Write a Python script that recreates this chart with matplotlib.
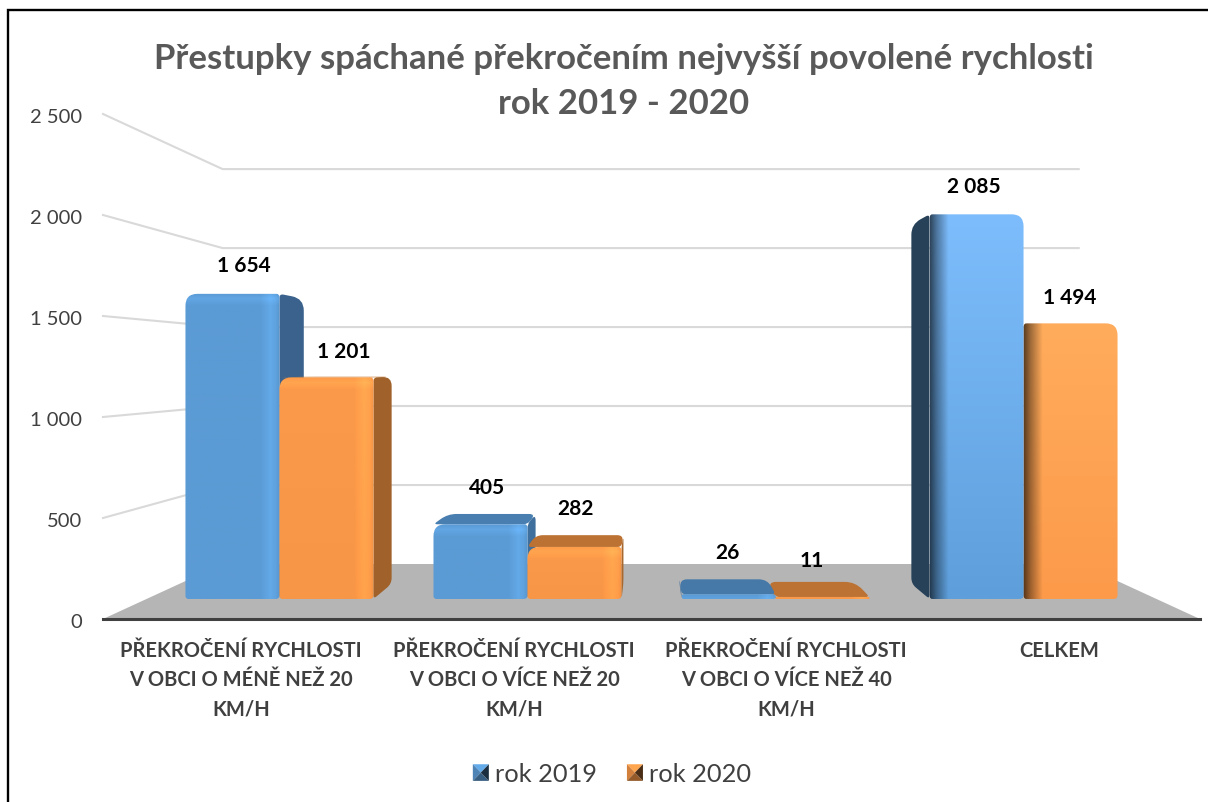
import numpy as np
import matplotlib
matplotlib.use('Agg')
from matplotlib import pyplot as plt
from matplotlib.colors import to_rgb
from matplotlib.legend_handler import HandlerBase
from matplotlib.patches import PathPatch, Patch, Polygon
from matplotlib.path import Path

plt.rcParams['font.family'] = ['Lato', 'DejaVu Sans']

# data
categories = ['PŘEKROČENÍ RYCHLOSTI\nV OBCI O MÉNĚ NEŽ 20\nKM/H',
              'PŘEKROČENÍ RYCHLOSTI\nV OBCI O VÍCE NEŽ 20\nKM/H',
              'PŘEKROČENÍ RYCHLOSTI\nV OBCI O VÍCE NEŽ 40\nKM/H',
              'CELKEM']
rok_2019 = [1654, 405, 26, 2085]
rok_2020 = [1201, 282, 11, 1494]
ticks = [0, 500, 1000, 1500, 2000, 2500]
title = 'Přestupky spáchané překročením nejvyšší povolené rychlosti\nrok 2019 - 2020'

# perspective of the fake 3d box, in pixels
VP_X = 651.5      # x of the vanishing line
BASE_Y = 620      # floor front edge
FLOOR_H = 55      # screen height of the floor
SHRINK = 0.218    # how much smaller the back wall is
UNIT = 269.4      # one category at depth 0
PX_PER_VAL = 101 / 500
BAR_SCALE = 0.992
X_MIN, X_MAX = -0.536, 3.536
T_FRONT, T_BACK = 0.364, 0.64
BAR_W = 0.379


def proj(x, v, t):
    s = 1 - SHRINK * t
    return (VP_X + (x - 1.5) * UNIT * s, BASE_Y - FLOOR_H * t - v * PX_PER_VAL * s)


def round_path(pts, radii):
    pts = [np.array(p, dtype=float) for p in pts]
    n = len(pts)
    verts, codes = [], []
    for i in range(n):
        cur, prv, nxt = pts[i], pts[i - 1], pts[(i + 1) % n]
        d1, d2 = np.linalg.norm(prv - cur), np.linalg.norm(nxt - cur)
        r = min(radii[i], d1 / 2, d2 / 2)
        a = cur + (prv - cur) / max(d1, 1e-6) * r
        b = cur + (nxt - cur) / max(d2, 1e-6) * r
        verts += [a, cur, b]
        codes += [Path.MOVETO if i == 0 else Path.LINETO, Path.CURVE3, Path.CURVE3]
    verts.append(verts[0])
    codes.append(Path.CLOSEPOLY)
    return Path(verts, codes)


def face(pts, radii, color, z):
    ax.add_patch(PathPatch(round_path(pts, radii), fc=color, ec='none', zorder=z))


def shaded_face(pts, radii, top_col, bot_col, xs, mult, top_glow, z):
    # rounded rectangle filled with an image: vertical colour ramp times a light profile
    patch = PathPatch(round_path(pts, radii), fc='none', ec='none', zorder=z)
    ax.add_patch(patch)
    x0, x1 = min(p[0] for p in pts), max(p[0] for p in pts)
    y0, y1 = min(p[1] for p in pts), max(p[1] for p in pts)
    w, h = max(int(x1 - x0), 2), max(int(y1 - y0), 2)
    ramp = np.linspace(0, 1, h)[:, None, None]
    rgb = (1 - ramp) * np.array(to_rgb(top_col)) + ramp * np.array(to_rgb(bot_col))
    prof = np.interp(np.arange(w), [w + v if v < 0 else v for v in xs], mult)[None, :, None]
    glow = np.interp(np.arange(h), [0, 5, 12], [1.0, top_glow, 1.0])[:, None, None]
    img = np.clip(rgb * prof * glow, 0, 1)
    im = ax.imshow(img, extent=(x0, x1, y1, y0), aspect='auto', interpolation='bilinear', zorder=z)
    im.set_clip_path(patch)


class BevelHandler(HandlerBase):
    def __init__(self, base):
        super().__init__()
        self.base = np.array(to_rgb(base))

    def create_artists(self, legend, orig, xd, yd, width, height, fontsize, trans):
        x0, y0 = -xd, -yd
        c = (x0 + width / 2, y0 + height / 2)
        a, b, e, d = (x0, y0), (x0 + width, y0), (x0 + width, y0 + height), (x0, y0 + height)
        tris = [((d, e), 1.1), ((a, d), 0.85), ((a, b), 0.6), ((b, e), 0.3)]
        return [Polygon([p, q, c], fc=np.clip(self.base * m, 0, 1), ec='none', transform=trans)
                for (p, q), m in tris]


fig = plt.figure(figsize=(12.08, 8.03), dpi=100)
ax = fig.add_axes([0, 0, 1, 1])
ax.axis('off')

# border, only left and top fit in the picture
ax.plot([8, 8, 1208], [803, 11, 11], color='black', lw=1.7, zorder=0, solid_joinstyle='miter')

# walls
for v in ticks[1:]:
    xf, yf = proj(X_MIN, v, 0)
    xb, yb = proj(X_MIN, v, 1)
    xr, _ = proj(X_MAX - 0.008, v, 1)
    ax.plot([xf, xb, xr], [yf, yb, yb], color='#D9D9D9', lw=1.5, zorder=1)

# floor
floor = [proj(X_MIN, 0, 0), proj(X_MIN, 0, 1), proj(X_MAX, 0, 1), proj(X_MAX, 0, 0)]
ax.add_patch(Polygon(floor, fc='#B5B5B5', ec='none', zorder=2))
ax.plot([floor[0][0], floor[3][0]], [BASE_Y, BASE_Y], color='#404040', lw=2.2, zorder=3)

blue = {'front': ['#5B9BD5'] * 3 + ['#7DBDFD'], 'bottom': ['#5B9BD5'] * 3 + ['#5E9FDB'],
        'top': ['#4F87BB', '#487FB0', '#4679A8', '#6FB2F4'], 'side': ['#3A628C', '#3F6F9C', '#3F6F9C', '#264158']}
orange = {'front': ['#FA9A4A'] * 3 + ['#FFAC5C'], 'bottom': ['#F79646'] * 3 + ['#FC9A4A'],
          'top': ['#C9803C', '#BC7232', '#BC7232', '#F0A050'], 'side': ['#A0622A', '#A8682E', '#A8682E', '#6B4018']}

z = 5
for i in range(len(categories)):
    # the bar nearer the middle goes on top
    order = [(0, rok_2019, blue), (1, rok_2020, orange)]
    if i >= 2:
        order = order[::-1]
    for j, vals, col in order:
        v = vals[i] * BAR_SCALE
        x0 = i - BAR_W + j * BAR_W
        x1 = x0 + BAR_W
        fl_b, fl_t = proj(x0, 0, T_FRONT), proj(x0, v, T_FRONT)
        fr_b, fr_t = proj(x1, 0, T_FRONT), proj(x1, v, T_FRONT)
        bl_b, bl_t = proj(x0, 0, T_BACK), proj(x0, v, T_BACK)
        br_b, br_t = proj(x1, 0, T_BACK), proj(x1, v, T_BACK)
        left_side = fl_b[0] > VP_X

        # top face shows only if the back edge climbs above the front edge
        if br_t[1] < fr_t[1]:
            face([fl_t, bl_t, br_t, fr_t], [4, 12, 12, 4], col['top'][i], z)
        if left_side:
            face([fl_b, fl_t, bl_t, bl_b], [4, 4, 12, 6], col['side'][i], z + 1)
        else:
            face([fr_b, fr_t, br_t, br_b], [4, 4, 12, 6], col['side'][i], z + 1)

        if i == 3:
            xs, mult = [0, 6, 18, -1], [0.38, 0.62, 1.0, 1.0]
            glow = 1.0
        else:
            xs, mult = [0, -20, -10, -5, -1], [1.0, 1.0, 1.09, 1.05, 0.97]
            glow = 1.07
        radii = [3, 3, 12, 4] if left_side else [3, 12, 3, 4]
        shaded_face([fl_b, fl_t, fr_t, fr_b], radii, col['front'][i], col['bottom'][i],
                    xs, mult, glow, z + 2)
        z += 3

# value labels, excel moved some of them by hand
nudge_2019 = [(11, -4), (7, 1), (-1, 0), (-3, -8)]
nudge_2020 = [(17, 3), (1, 0), (-11, 5), (-1, 0)]
for vals, j, nudge in ((rok_2019, 0, nudge_2019), (rok_2020, 1, nudge_2020)):
    for i, v in enumerate(vals):
        x, _ = proj(i - BAR_W + (j + 0.5) * BAR_W, v, T_FRONT)
        _, y = proj(i, v, T_BACK)
        s = f'{v:,}'.replace(',', ' ')
        ax.text(x + nudge[i][0], y - 27 + nudge[i][1], s, ha='center', va='center',
                fontsize=15, fontweight='bold', color='black', zorder=100)

# axis labels
for v in ticks:
    _, y = proj(X_MIN, v, 0)
    s = f'{v:,}'.replace(',', ' ')
    ax.text(82, y + 2.5, s, ha='right', va='center', fontsize=14.5, color='#404040')

label_x = [241, 514, 786, 1059]
for x, c in zip(label_x, categories):
    ax.text(x, 641, c, ha='center', va='top', fontsize=14.5, fontweight='bold',
            color='#404040', linespacing=1.59)

ax.text(624, 81.5, title, ha='center', va='center', fontsize=25, fontweight='bold',
        color='#595959', linespacing=1.5)

ax.set_xlim(0, 1208)
ax.set_ylim(803, 0)

h1, h2 = Patch(label='rok 2019'), Patch(label='rok 2020')
ax.legend([h1, h2], ['rok 2019', 'rok 2020'],
          handler_map={h1: BevelHandler('#5B9BD5'), h2: BevelHandler('#F79646')},
          loc='center', bbox_to_anchor=(612 / 1208, 1 - 775 / 803), ncol=2, frameon=False,
          fontsize=18.3, labelcolor='#404040', handlelength=0.63, handleheight=0.63,
          handletextpad=0.24, columnspacing=1.18)

fig.savefig('out.png', dpi=100)
